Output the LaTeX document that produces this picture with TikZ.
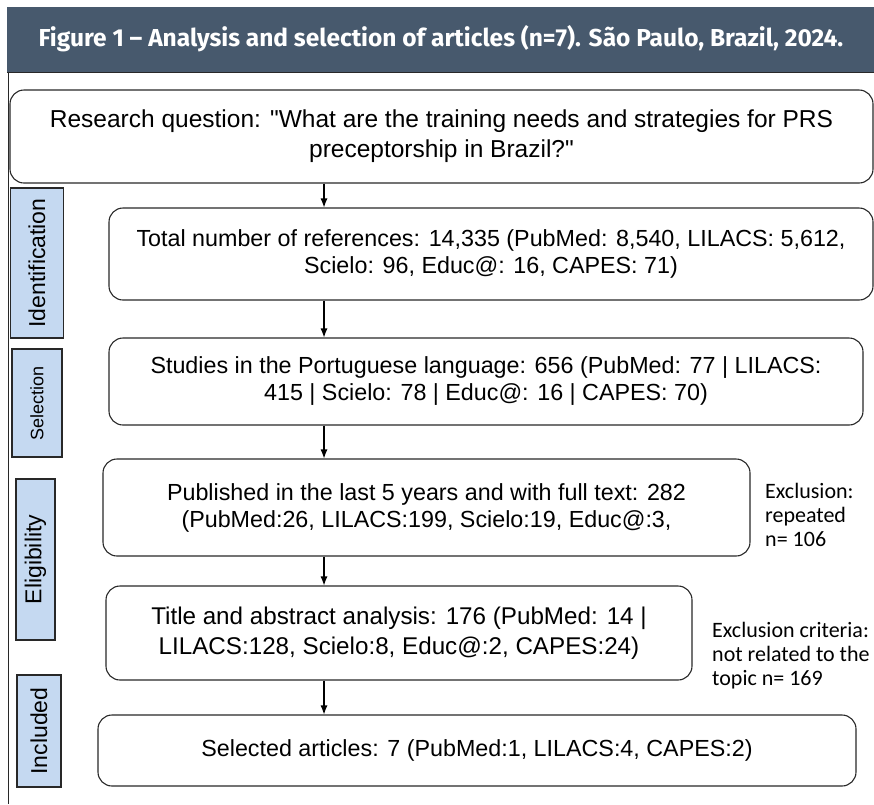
\documentclass[tikz,border=0pt]{standalone}
\usepackage{fontspec}
\setmainfont{Liberation Sans}[Ligatures=TeXOff]
\newfontfamily\headfont{Fira Sans}
\newfontfamily\notefont{Carlito}
\usetikzlibrary{arrows.meta}

\definecolor{bandcol}{RGB}{71,89,109}
\definecolor{phasecol}{RGB}{197,217,241}
\definecolor{linecol}{RGB}{40,40,40}

\tikzset{
	box/.style={draw=linecol, line width=1.1pt, rounded corners=14pt, align=center, inner sep=0pt, font=\fontsize{23.3}{27}\selectfont},
	phase/.style={draw=linecol, line width=1.1pt, fill=phasecol, rotate=90, inner sep=0pt},
	note/.style={align=left, anchor=west, inner sep=0pt, font=\notefont\fontsize{22}{24}\selectfont}
}

\begin{document}
\begin{tikzpicture}[x=1pt,y=-1pt,>={Latex[length=9pt,width=7pt]}]
			\useasboundingbox (0,0) rectangle (874,804);
			% header band
			\fill[bandcol] (7,7) rectangle (874,72);
			\draw[linecol, line width=1pt] (7,72) -- (874,72);
			\draw[linecol, line width=1pt] (8,72) -- (8,804);
			\node[text=white, font=\headfont\bfseries\fontsize{24.5}{24.5}\selectfont] (title) at (441,39) {Figure 1 – Analysis and selection of articles (n=7). São Paulo, Brazil, 2024.};
			% flow boxes
			\node[box, minimum width=863pt, minimum height=93pt, font=\fontsize{24.5}{30}\selectfont] (q) at (441.5,136.5) {Research question: "What are the training needs and strategies for PRS\\preceptorship in Brazil?"};
			\node[box, minimum width=764pt, minimum height=92pt] (v1) at (491,254) {Total number of references: 14,335 (PubMed: 8,540, LILACS: 5,612,\\Scielo: 96, Educ@: 16, CAPES: 71)};
			\node[box, minimum width=754pt, minimum height=87pt] (v2) at (486,381.5) {Studies in the Portuguese language: 656 (PubMed: 77 | LILACS:\\415 | Scielo: 78 | Educ@: 16 | CAPES: 70)};
			\node[box, minimum width=647pt, minimum height=97pt] (v3) at (426.5,507.5) {Published in the last 5 years and with full text: 282\\(PubMed:26, LILACS:199, Scielo:19, Educ@:3,};
			\node[box, minimum width=586pt, minimum height=94pt, font=\fontsize{24.2}{30}\selectfont] (v4) at (399,633) {Title and abstract analysis: 176 (PubMed: 14 |\\LILACS:128, Scielo:8, Educ@:2, CAPES:24)};
			\node[box, minimum width=758pt, minimum height=71pt] (v5) at (477,750.5) {Selected articles: 7 (PubMed:1, LILACS:4, CAPES:2)};
			% phase labels
			\node[phase, minimum width=150pt, minimum height=53pt, font=\fontsize{23}{23}\selectfont] (p1) at (37,263) {Identification};
			\node[phase, minimum width=108pt, minimum height=50pt, font=\fontsize{18}{18}\selectfont] (p2) at (37,403) {Selection};
			\node[phase, minimum width=161pt, minimum height=39pt, font=\fontsize{23}{23}\selectfont] (p3) at (35.5,559.5) {Eligibility};
			\node[phase, minimum width=112pt, minimum height=44pt, font=\fontsize{23}{23}\selectfont] (p4) at (39,731) {Included};
			% exclusions
			\node[note] (e1) at (765,515) {Exclusion:\\repeated\\n= 106};
			\node[note] (e2) at (712,656) {Exclusion criteria:\\not related to the\\topic n= 169};
			% arrows
			\coordinate (ax) at (324,0);
			\draw[->, line width=1.1pt] (q.south -| ax) -- (v1.north -| ax);
			\draw[->, line width=1.1pt] (v1.south -| ax) -- (v2.north -| ax);
			\draw[->, line width=1.1pt] (v2.south -| ax) -- (v3.north -| ax);
			\draw[->, line width=1.1pt] (v3.south -| ax) -- (v4.north -| ax);
			\draw[->, line width=1.1pt] (v4.south -| ax) -- (v5.north -| ax);
		\end{tikzpicture}
\end{document}
